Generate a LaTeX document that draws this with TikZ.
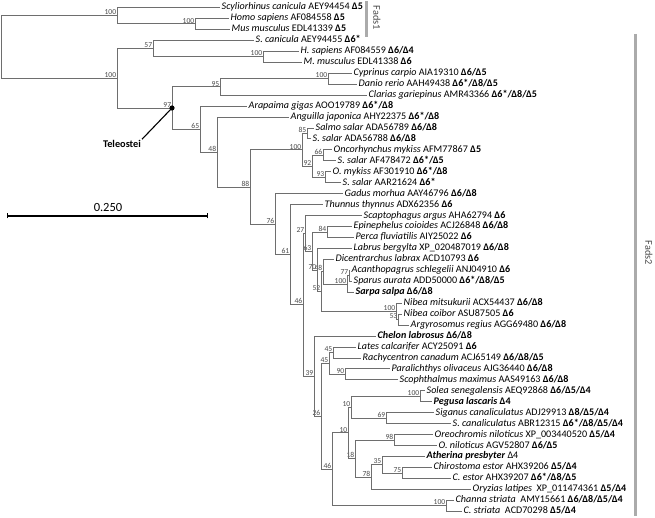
\documentclass[tikz,border=0pt]{standalone}
\usepackage{fontspec}
\setmainfont{Carlito}
\usetikzlibrary{positioning}
\definecolor{treeGray}{HTML}{6E6E6E}
\definecolor{bootGray}{HTML}{4A4A4A}
\definecolor{cladeGray}{HTML}{ABABAB}
\tikzset{
  % Branches of the tree: thin and grey.
  tree/br/.style={draw=treeGray, line width=0.8pt},
  % Taxon labels, placed at the tip of each branch.
  tree/leaf/.style={anchor=west, inner xsep=1.5pt, inner ysep=0pt,
    text height=6.5pt, text depth=1.5pt, font=\fontsize{10.1}{11}\selectfont, text=black},
  % Bootstrap values, left of the node and above the branch.
  tree/bs/.style={font=\fontsize{7.6}{8}\selectfont, text=bootGray, inner sep=0.6pt},
  tree/boot/.style={label={[tree/bs]above left:#1}},
  % Grey bars for the two gene families.
  tree/clade/.style={draw=cladeGray, line width=3pt},
  tree/cladelab/.style={font=\fontsize{10.3}{11}\selectfont, text=bootGray, rotate=-90},
  tree/scale/.style={draw=black, line width=1.1pt},
}
\begin{document}
\begin{tikzpicture}[x=1pt,y=-1pt]
  \useasboundingbox (0,0) rectangle (655,518);
  % internal nodes
  \coordinate (root) at (1,47);
  \coordinate[tree/boot=100] (fa1) at (117,15.7);
  \coordinate[tree/boot=100] (hm1) at (195,23.9);
  \coordinate[tree/boot=100] (f2) at (117,78.3);
  \coordinate[tree/boot=57] (n57) at (153,48.6);
  \coordinate[tree/boot=100] (hm2) at (263,56.8);
  \coordinate[tree/boot=97] (n97) at (172,108);
  \coordinate[tree/boot=95] (n95) at (220,86.9);
  \coordinate[tree/boot=100] (cd) at (328,78.7);
  \coordinate[tree/boot=65] (n65) at (200,129);
  \coordinate[tree/boot=48] (n48a) at (217,152);
  \coordinate[tree/boot=88] (n88) at (250,187);
  \coordinate[tree/boot=100] (sal) at (302,149.9);
  \coordinate[tree/boot=85] (n85) at (307,133.4);
  \coordinate[tree/boot=92] (n92) at (312,166.3);
  \coordinate[tree/boot=66] (n66) at (323,155.3);
  \coordinate[tree/boot=93] (n93) at (325,177.2);
  \coordinate[tree/boot=76] (n76) at (275,224.2);
  \coordinate[tree/boot=61] (n61) at (290,254.65);
  \coordinate[tree/boot=46] (n46a) at (303,304.75);
  \coordinate[tree/boot=27] (n27) at (305,233.3);
  \coordinate[tree/boot=63] (n63) at (312,251);
  \coordinate[tree/boot=84] (n84) at (327,232);
  \coordinate[tree/boot=70] (n70) at (317,270);
  \coordinate[tree/boot=52] (n52) at (321,291.6);
  \coordinate[tree/boot=48] (n48b) at (323,271.7);
  \coordinate[tree/boot=100] (spa) at (347,284);
  \coordinate[tree/boot=77] (n77) at (349,275.8);
  \coordinate[tree/boot=100] (nib) at (396,311.4);
  \coordinate[tree/boot=53] (n53) at (398,319.6);
  \coordinate[tree/boot=39] (n39) at (314,376.15);
  \coordinate[tree/boot=26] (n26) at (321,416.35);
  \coordinate[tree/boot=45] (n45b) at (329,363.35);
  \coordinate[tree/boot=45] (n45a) at (333,352.4);
  \coordinate[tree/boot=90] (n90) at (345,374.3);
  \coordinate[tree/boot=46] (n46b) at (332,469.25);
  \coordinate[tree/boot=10] (n10b) at (348,432.85);
  \coordinate[tree/boot=10] (n10a) at (351,407.15);
  \coordinate[tree/boot=100] (sol) at (420,396.2);
  \coordinate[tree/boot=69] (n69) at (386,418.1);
  \coordinate[tree/boot=18] (n18) at (355,458.5);
  \coordinate[tree/boot=98] (n98) at (394,440);
  \coordinate[tree/boot=78] (n78) at (371,477);
  \coordinate[tree/boot=35] (n35) at (382,464.7);
  \coordinate[tree/boot=75] (n75) at (402,472.9);
  \coordinate[tree/boot=100] (cha) at (446,505.7);
  % taxa
  \node[tree/leaf] (Lscy) at (220,7.5)   {\textit{Scyliorhinus canicula} AEY94454 \textbf{Δ5}};
  \node[tree/leaf] (Lhom) at (229,18.45) {\textit{Homo sapiens} AF084558 \textbf{Δ5}};
  \node[tree/leaf] (Lmus) at (230,29.4)  {\textit{Mus musculus} EDL41339 \textbf{Δ5}};
  \node[tree/leaf] (Lsca) at (254,40.35) {\textit{S. canicula} AEY94455 \textbf{Δ6*}};
  \node[tree/leaf] (Lhsa) at (299,51.3)  {\textit{H. sapiens} AF084559 \textbf{Δ6/Δ4}};
  \node[tree/leaf] (Lmmu) at (302,62.25) {\textit{M. musculus} EDL41338 \textbf{Δ6}};
  \node[tree/leaf] (Lcyp) at (352,73.2)  {\textit{Cyprinus carpio} AIA19310 \textbf{Δ6/Δ5}};
  \node[tree/leaf] (Ldan) at (357,84.15) {\textit{Danio rerio} AAH49438 \textbf{Δ6*/Δ8/Δ5}};
  \node[tree/leaf] (Lcla) at (367,95.1)  {\textit{Clarias gariepinus} AMR43366 \textbf{Δ6*/Δ8/Δ5}};
  \node[tree/leaf] (Lara) at (247,106.05) {\textit{Arapaima gigas} AOO19789 \textbf{Δ6*/Δ8}};
  \node[tree/leaf] (Lang) at (289,117)   {\textit{Anguilla japonica} AHY22375 \textbf{Δ6*/Δ8}};
  \node[tree/leaf] (Lsal) at (314,127.95) {\textit{Salmo salar} ADA56789 \textbf{Δ6/Δ8}};
  \node[tree/leaf] (Lss1) at (311,138.9) {\textit{S. salar} ADA56788 \textbf{Δ6/Δ8}};
  \node[tree/leaf] (Lonc) at (332,149.85) {\textit{Oncorhynchus mykiss} AFM77867 \textbf{Δ5}};
  \node[tree/leaf] (Lss2) at (336,160.8) {\textit{S. salar} AF478472 \textbf{Δ6*/Δ5}};
  \node[tree/leaf] (Lomy) at (331,171.75) {\textit{O. mykiss} AF301910 \textbf{Δ6*/Δ8}};
  \node[tree/leaf] (Lss3) at (341,182.7) {\textit{S. salar} AAR21624 \textbf{Δ6*}};
  \node[tree/leaf] (Lgad) at (343,193.65) {\textit{Gadus morhua} AAY46796 \textbf{Δ6/Δ8}};
  \node[tree/leaf] (Lthu) at (323,204.6) {\textit{Thunnus thynnus} ADX62356 \textbf{Δ6}};
  \node[tree/leaf] (Lsar) at (362,215.55) {\textit{Scaptophagus argus} AHA62794 \textbf{Δ6}};
  \node[tree/leaf] (Lepi) at (352,226.5) {\textit{Epinephelus coioides} ACJ26848 \textbf{Δ6/Δ8}};
  \node[tree/leaf] (Lper) at (354,237.45) {\textit{Perca fluviatilis} AIY25022 \textbf{Δ6}};
  \node[tree/leaf] (Llab) at (352,248.4) {\textit{Labrus bergylta} XP\_020487019 \textbf{Δ6/Δ8}};
  \node[tree/leaf] (Ldic) at (334,259.35) {\textit{Dicentrarchus labrax} ACD10793 \textbf{Δ6}};
  \node[tree/leaf] (Laca) at (350,270.3) {\textit{Acanthopagrus schlegelii} ANJ04910 \textbf{Δ6}};
  \node[tree/leaf] (Lspa) at (352,281.25) {\textit{Sparus aurata} ADD50000 \textbf{Δ6*/Δ8/Δ5}};
  \node[tree/leaf] (Lsal2) at (354,292.2) {\textbf{\textit{Sarpa salpa} Δ6/Δ8}};
  \node[tree/leaf] (Lnmi) at (402,303.15) {\textit{Nibea mitsukurii} ACX54437 \textbf{Δ6/Δ8}};
  \node[tree/leaf] (Lnco) at (402,314.1) {\textit{Nibea coibor} ASU87505 \textbf{Δ6}};
  \node[tree/leaf] (Larg) at (409,325.05) {\textit{Argyrosomus regius} AGG69480 \textbf{Δ6/Δ8}};
  \node[tree/leaf] (Lche) at (376,336)   {\textbf{\textit{Chelon labrosus} Δ6/Δ8}};
  \node[tree/leaf] (Llat) at (356,346.95) {\textit{Lates calcarifer} ACY25091 \textbf{Δ6}};
  \node[tree/leaf] (Lrac) at (361,357.9) {\textit{Rachycentron canadum} ACJ65149 \textbf{Δ6/Δ8/Δ5}};
  \node[tree/leaf] (Lpar) at (390,368.85) {\textit{Paralichthys olivaceus} AJG36440 \textbf{Δ6/Δ8}};
  \node[tree/leaf] (Lsco) at (398,379.8) {\textit{Scophthalmus maximus} AAS49163 \textbf{Δ6/Δ8}};
  \node[tree/leaf] (Lsol) at (425,390.75) {\textit{Solea senegalensis} AEQ92868 \textbf{Δ6/Δ5/Δ4}};
  \node[tree/leaf] (Lpeg) at (432,401.7) {\textbf{\textit{Pegusa lascaris} Δ4}};
  \node[tree/leaf] (Lsig) at (434,412.65) {\textit{Siganus canaliculatus} ADJ29913 \textbf{Δ8/Δ5/Δ4}};
  \node[tree/leaf] (Lscn) at (451,423.6) {\textit{S. canaliculatus} ABR12315 \textbf{Δ6*/Δ8/Δ5/Δ4}};
  \node[tree/leaf] (Lore) at (433,434.55) {\textit{Oreochromis niloticus} XP\_003440520 \textbf{Δ5/Δ4}};
  \node[tree/leaf] (Loni) at (437,445.5) {\textit{O. niloticus} AGV52807 \textbf{Δ6/Δ5}};
  \node[tree/leaf] (Lath) at (425,456.45) {\textbf{\textit{Atherina presbyter}} Δ4};
  \node[tree/leaf] (Lchi) at (432,467.4) {\textit{Chirostoma estor} AHX39206 \textbf{Δ5/Δ4}};
  \node[tree/leaf] (Lces) at (451,478.35) {\textit{C. estor} AHX39207 \textbf{Δ6*/Δ8/Δ5}};
  \node[tree/leaf] (Lory) at (471,489.3) {\textit{Oryzias latipes}\ \ XP\_011474361 \textbf{Δ5/Δ4}};
  \node[tree/leaf] (Lcha) at (454,500.25) {\textit{Channa striata}\ \ AMY15661 \textbf{Δ6/Δ8/Δ5/Δ4}};
  \node[tree/leaf] (Lcst) at (462,511.2) {\textit{C. striata}\ \ ACD70298 \textbf{Δ5/Δ4}};
  % branches
  \foreach \p/\c in {root/fa1,root/f2,fa1/Lscy,fa1/hm1,hm1/Lhom,hm1/Lmus,
      f2/n57,f2/n97,n57/Lsca,n57/hm2,hm2/Lhsa,hm2/Lmmu,
      n97/n95,n97/n65,n95/cd,n95/Lcla,cd/Lcyp,cd/Ldan,
      n65/Lara,n65/n48a,n48a/Lang,n48a/n88,n88/sal,n88/n76,
      sal/n85,sal/n92,n85/Lsal,n85/Lss1,n92/n66,n92/n93,
      n66/Lonc,n66/Lss2,n93/Lomy,n93/Lss3,
      n76/Lgad,n76/n61,n61/Lthu,n61/n46a,n46a/n27,n46a/n39,
      n27/Lsar,n27/n63,n63/n84,n63/n70,n84/Lepi,n84/Lper,
      n70/Llab,n70/n52,n52/n48b,n52/nib,
      n48b/Ldic,n48b/spa,spa/n77,spa/Lsal2,n77/Laca,n77/Lspa,
      nib/Lnmi,nib/n53,n53/Lnco,n53/Larg,
      n39/Lche,n39/n26,n26/n45b,n26/n46b,
      n45b/n45a,n45b/n90,n45a/Llat,n45a/Lrac,n90/Lpar,n90/Lsco,
      n46b/n10b,n46b/cha,n10b/n10a,n10b/n18,
      n10a/sol,n10a/n69,sol/Lsol,sol/Lpeg,n69/Lsig,n69/Lscn,
      n18/n98,n18/n78,n98/Lore,n98/Loni,
      n78/n35,n78/Lory,n35/Lath,n35/n75,n75/Lchi,n75/Lces,
      cha/Lcha,cha/Lcst}{\draw[tree/br] (\p) |- (\c);}
  % Teleostei marker
  \fill[black] (n97) circle (2.6);
  \node[font=\fontsize{10.3}{11}\selectfont\bfseries, inner sep=1pt] (tel) at (122,144) {Teleostei};
  \draw[black, line width=1.1pt] (n97) -- (tel.north east);
  % scale bar
  \coordinate (sb0) at (7,216);
  \coordinate (sb1) at (207,216);
  \draw[tree/scale] (sb0) -- (sb1);
  \draw[tree/scale, line width=0.8pt] ([yshift=-2.5pt]sb0) -- ([yshift=2.5pt]sb0);
  \draw[tree/scale, line width=0.8pt] ([yshift=-2.5pt]sb1) -- ([yshift=2.5pt]sb1);
  \node[font=\fontsize{12.5}{13}\selectfont, inner sep=1pt] (sblab) at (108,207) {0.250};
  % gene families
  \coordinate (fa1top) at (366.5,1);
  \coordinate (fa1bot) at (366.5,37);
  \draw[tree/clade] (fa1top) -- (fa1bot);
  \node[tree/cladelab] (fads1) at (377,18) {Fads1};
  \coordinate (fa2top) at (635,34);
  \coordinate (fa2bot) at (635,516);
  \draw[tree/clade] (fa2top) -- (fa2bot);
  \node[tree/cladelab] (fads2) at (649,253) {Fads2};
\end{tikzpicture}
\end{document}
